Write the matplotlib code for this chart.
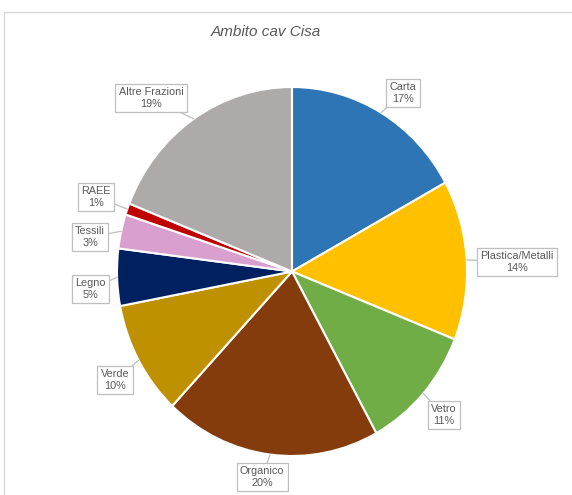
import numpy as np
import matplotlib.pyplot as plt
from matplotlib.patches import Rectangle

# Ripartizione raccolta differenziata - ambito cav Cisa
categorie = ["Carta", "Plastica/Metalli", "Vetro", "Organico", "Verde",
             "Legno", "Tessili", "RAEE", "Altre Frazioni"]
percentuali = [17, 14, 11, 20, 10, 5, 3, 1, 19]
colori = ["#2E75B6", "#FFC000", "#70AD47", "#843C0C", "#BF9000",
          "#002060", "#D9A0CF", "#C00000", "#AEAAAA"]

# Posizione delle etichette (centro del riquadro, in pixel della figura)
pos_etichette = [(403, 93), (517, 262), (444, 415), (262, 477), (115, 380),
                 (90, 289), (90, 237), (96, 197), (151, 98)]

W, H = 572, 495
CX, CY, RX, RY = 292, 271.5, 175, 184.5

fig = plt.figure(figsize=(W / 100, H / 100), dpi=100)
plt.rcParams["font.family"] = ["Liberation Sans", "DejaVu Sans"]

# Cornice del grafico
fig.patches.append(Rectangle((4 / W, -0.05), 1.1, (H - 12) / H + 0.05,
                             transform=fig.transFigure, fill=False,
                             edgecolor="#D9D9D9", linewidth=1.0))

ax = fig.add_axes([(CX - RX) / W, (H - CY - RY) / H, 2 * RX / W, 2 * RY / H])
wedges, _ = ax.pie(percentuali, colors=colori, startangle=90, counterclock=False,
                   wedgeprops=dict(edgecolor="white", linewidth=1.5))
ax.set_aspect("auto")
ax.set_xlim(-1, 1)
ax.set_ylim(-1, 1)
ax.axis("off")

for w, nome, val, (px, py) in zip(wedges, categorie, percentuali, pos_etichette):
    ang = np.deg2rad((w.theta1 + w.theta2) / 2)
    xy = (np.cos(ang), np.sin(ang))
    xt = (px - CX) / RX
    yt = (CY - py) / RY
    ax.annotate(f"{nome}\n{val}%", xy=xy, xytext=(xt, yt),
                ha="center", va="center", fontsize=7.8, color="#595959",
                linespacing=1.15, annotation_clip=False,
                bbox=dict(boxstyle="square,pad=0.3", fc="white",
                          ec="#BFBFBF", lw=0.9),
                arrowprops=dict(arrowstyle="-", color="#BFBFBF", lw=0.9,
                                shrinkA=0, shrinkB=0))

fig.text(266 / W, (H - 32) / H, "Ambito cav Cisa", ha="center", va="center",
         fontsize=11, style="italic", color="#595959")

fig.savefig("out.png", dpi=100)
